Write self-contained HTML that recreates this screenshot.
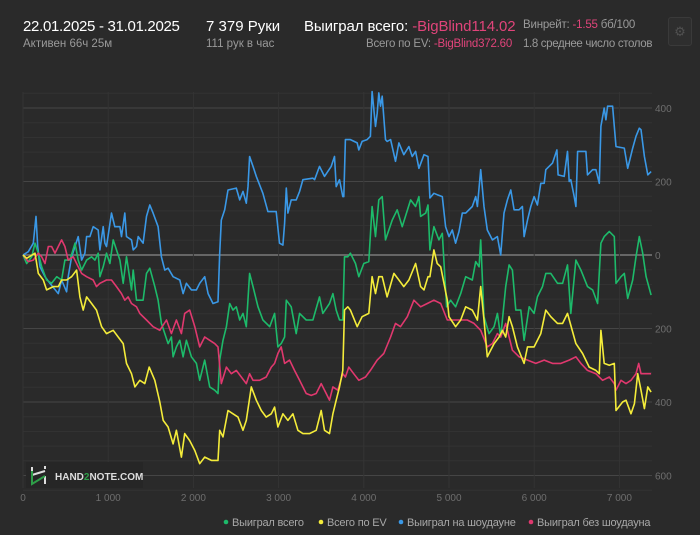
<!DOCTYPE html>
<html><head><meta charset="utf-8">
<style>
html,body{margin:0;padding:0;background:#2a2a2a;width:700px;height:535px;overflow:hidden;font-family:"Liberation Sans","DejaVu Sans",sans-serif;}
.t{position:absolute;white-space:nowrap;}
.w{color:#fff;font-size:15px;}
.g{color:#9a9a9a;font-size:11.5px;}
.p{color:#e0447a;}
</style></head><body>
<div style="position:absolute;left:0;top:0;width:700px;height:60px;">
<div class="t w" style="left:23px;top:18px;letter-spacing:-0.3px;">22.01.2025 - 31.01.2025</div>
<div class="t g" style="left:23px;top:38px;">Активен 66ч 25м</div>
<div class="t w" style="left:206px;top:18px;">7 379 Руки</div>
<div class="t g" style="left:206px;top:38px;">111 рук в час</div>
<div class="t w" style="left:304px;top:18px;letter-spacing:-0.1px;">Выиграл всего: <span class="p">-BigBlind114.02</span></div>
<div class="t g" style="left:366px;top:38px;letter-spacing:-0.2px;">Всего по EV: <span class="p">-BigBlind372.60</span></div>
<div class="t g" style="left:523px;top:19px;font-size:11.5px;letter-spacing:-0.2px;">Винрейт: <span class="p">-1.55</span> бб/100</div>
<div class="t g" style="left:523px;top:38px;font-size:11.5px;letter-spacing:-0.35px;">1.8 среднее число столов</div>
<div style="position:absolute;left:668px;top:17px;width:22px;height:27px;border:1px solid #3a3a3a;border-radius:3px;background:#2e2e2e;color:#505050;font-size:13px;text-align:center;line-height:27px;">⚙</div>
</div>
<svg id="chart" width="700" height="535" style="position:absolute;left:0;top:0;" font-family="Liberation Sans, sans-serif">
<g id="grid"></g><g id="series"></g><g id="axes"></g>
<g>
<rect x="26" y="462" width="117" height="26" fill="#262626"/>
<path d="M32 467 V473 M32 478 V481 M32 475 L45 471 M45 476 V484 M45 466 V469" stroke="#ddd" stroke-width="2" fill="none"/>
<path d="M32 471 V484 L45 476" stroke="#2e9e48" stroke-width="2" fill="none"/>
<text x="55" y="480" font-size="10" font-weight="bold" fill="#ddd">HAND<tspan fill="#2e9e48">2</tspan>NOTE.COM</text>
</g>
<g id="legend"></g>
</svg>
<script>
const hBlue=[0,62,121,152,172,199,258,316,414,453,512,531,570,648,688,727,746,785,824,883,902,941,961,980,1039,1078,1137,1156,1195,1215,1273,1293,1332,1352,1410,1449,1488,1527,1586,1625,1664,1703,1762,1840,1879,1918,1976,2035,2074,2133,2172,2230,2289,2309,2328,2367,2406,2504,2543,2582,2621,2641,2660,2699,2738,2816,2875,2972,3011,3051,3070,3090,3109,3148,3207,3246,3285,3402,3422,3480,3539,3617,3656,3676,3715,3754,3765,3784,3843,3922,3941,3980,4039,4078,4098,4137,4157,4176,4196,4216,4255,4274,4314,4372,4412,4470,4529,4568,4608,4647,4706,4753,4776,4823,4862,4921,4960,5000,5039,5078,5117,5156,5196,5274,5313,5333,5372,5411,5450,5509,5568,5607,5646,5686,5725,5764,5823,5862,5882,5921,5960,5999,6038,6078,6117,6136,6215,6266,6281,6352,6391,6411,6430,6470,6489,6509,6607,6626,6685,6724,6764,6783,6822,6842,6862,6920,6960,7058,7097,7156,7195,7234,7254,7293,7333,7372];
const vBlue=[0,9,32,105,23,-32,-59,-77,-105,-68,-100,-59,-5,50,-14,5,50,50,77,68,14,77,32,23,114,77,77,50,114,50,41,14,23,50,32,105,136,114,77,-5,-41,-36,-59,-68,-105,-77,-95,-95,-77,-59,-105,-132,-127,5,95,123,177,182,150,173,141,186,268,241,214,168,118,118,32,27,86,182,114,150,150,173,205,209,205,241,214,241,268,186,205,159,159,314,314,305,286,309,314,323,445,350,386,441,405,432,314,309,314,255,305,273,295,268,282,236,273,268,155,168,164,159,77,50,68,32,64,114,114,132,159,132,232,132,68,41,50,0,114,150,177,123,123,132,50,95,132,159,136,195,195,232,250,286,218,214,282,200,205,159,132,282,282,218,232,232,195,350,400,368,405,405,295,291,236,291,323,345,341,268,218,227];
const hGreen=[0,43,102,141,180,219,277,336,395,453,492,551,610,648,688,746,805,844,883,902,941,980,1020,1059,1098,1137,1176,1215,1273,1293,1332,1410,1449,1488,1547,1586,1625,1664,1703,1742,1762,1801,1840,1879,1918,1976,2035,2074,2133,2191,2250,2289,2309,2348,2387,2426,2465,2504,2543,2582,2621,2660,2699,2758,2816,2895,2953,2992,3031,3070,3090,3148,3207,3246,3324,3402,3480,3519,3597,3637,3676,3715,3754,3773,3812,3843,3902,3941,4000,4059,4098,4137,4176,4216,4255,4333,4392,4451,4549,4608,4647,4667,4726,4753,4776,4823,4882,4921,4972,5019,5078,5137,5196,5274,5313,5353,5372,5411,5470,5529,5568,5607,5666,5705,5744,5784,5843,5882,5941,5999,6038,6097,6136,6195,6274,6333,6391,6430,6489,6548,6626,6685,6744,6783,6822,6881,6940,6960,7019,7058,7097,7156,7195,7234,7274,7313,7372];
const vGreen=[0,-23,-5,32,5,-32,-68,-77,-59,-68,-14,-14,32,-14,-41,-14,-5,-14,5,-59,-32,5,-23,41,14,-14,-77,-5,-95,-41,-123,-123,-50,-36,-86,-123,-186,-214,-241,-223,-277,-250,-232,-277,-232,-277,-295,-341,-286,-359,-368,-377,-286,-232,-195,-132,-150,-141,-177,-159,-195,-50,-86,-141,-177,-195,-159,-250,-241,-223,-123,-141,-214,-159,-177,-177,-114,-159,-132,-105,-150,-177,-177,-5,-5,5,-23,-59,-23,-18,132,50,150,159,41,95,123,77,150,132,159,105,114,136,14,77,41,59,-141,-123,-141,-105,-59,-68,-18,-32,41,-168,-214,-195,-159,-223,-86,-27,-41,-150,-150,-232,-141,-159,-114,-86,-50,-50,-77,-77,-27,-159,-14,-41,-86,-95,-132,32,50,64,50,-77,-59,-50,-118,-68,-5,50,5,-59,-109];
const hYellow=[0,43,141,180,238,277,356,414,453,512,570,629,668,707,746,805,863,922,980,1059,1117,1176,1215,1273,1313,1371,1430,1481,1547,1606,1645,1703,1762,1801,1859,1898,1957,2016,2074,2133,2211,2289,2309,2348,2406,2465,2523,2582,2621,2680,2738,2797,2855,2914,2953,2992,3051,3109,3168,3226,3285,3363,3441,3500,3539,3597,3637,3676,3715,3754,3773,3812,3843,3922,3980,4059,4098,4137,4176,4216,4274,4353,4412,4470,4529,4608,4667,4706,4753,4776,4823,4862,4902,4980,5000,5078,5137,5196,5274,5333,5372,5411,5450,5529,5588,5627,5666,5705,5744,5803,5882,5921,5999,6078,6136,6195,6274,6333,6391,6489,6568,6646,6724,6764,6783,6822,6881,6940,6960,7038,7078,7136,7176,7215,7254,7293,7333,7372];
const vYellow=[0,-9,5,-50,-68,-95,-86,-86,-68,-68,-59,-41,-114,-150,-114,-132,-150,-195,-214,-205,-223,-241,-295,-323,-359,-341,-350,-305,-341,-400,-450,-468,-514,-477,-550,-486,-505,-532,-568,-550,-559,-559,-477,-495,-423,-432,-441,-477,-450,-359,-395,-423,-441,-432,-414,-468,-432,-450,-432,-477,-486,-486,-477,-423,-477,-486,-432,-395,-359,-314,-150,-141,-150,-195,-168,-159,-59,-105,-59,-59,-114,-50,-68,-86,-68,-23,-86,-95,-59,-59,14,-23,-32,-123,-168,-195,-177,-141,-150,-177,-86,-177,-277,-241,-223,-205,-223,-168,-195,-250,-295,-250,-250,-214,-150,-168,-186,-186,-159,-241,-268,-305,-314,-323,-205,-295,-300,-295,-423,-400,-395,-432,-405,-323,-368,-418,-359,-373];
const hPink=[0,62,121,180,219,258,297,336,375,414,453,492,531,590,648,688,746,824,863,902,980,1039,1098,1156,1195,1234,1273,1332,1371,1449,1527,1606,1684,1742,1801,1859,1898,1957,2016,2074,2133,2191,2250,2289,2328,2387,2445,2504,2562,2621,2660,2699,2777,2855,2914,2953,2992,3031,3070,3129,3187,3246,3324,3383,3441,3500,3559,3597,3637,3695,3754,3784,3824,3882,3941,4020,4078,4157,4235,4314,4372,4431,4510,4588,4667,4745,4823,4902,4980,5059,5137,5215,5294,5372,5450,5509,5568,5607,5666,5705,5744,5823,5921,6019,6117,6215,6313,6411,6489,6548,6626,6724,6803,6881,6940,6960,7019,7078,7136,7195,7227,7254,7313,7372];
const vPink=[0,-18,-14,5,-5,-23,23,23,5,23,41,23,-14,-5,-32,-50,-59,-68,-86,-77,-68,-68,-86,-105,-123,-114,-132,-141,-159,-177,-195,-205,-177,-214,-177,-214,-159,-150,-195,-250,-223,-232,-241,-250,-350,-305,-323,-314,-332,-350,-323,-341,-341,-332,-305,-295,-268,-250,-295,-286,-314,-341,-377,-382,-377,-350,-377,-395,-359,-368,-323,-332,-305,-323,-341,-332,-314,-286,-268,-223,-186,-195,-168,-123,-141,-132,-123,-132,-177,-177,-177,-177,-186,-205,-250,-241,-214,-223,-186,-223,-259,-277,-286,-295,-286,-295,-295,-286,-277,-295,-314,-323,-341,-332,-350,-368,-341,-350,-341,-323,-295,-323,-323,-323];
const xTicks=[0,1000,2000,3000,4000,5000,6000,7000];
const xTickLabels=["0","1 000","2 000","3 000","4 000","5 000","6 000","7 000"];
const yTicks=[400,200,0,-200,-400,-600];
const yTickLabels=["400","200","0","200","400","600"];
const seriesNames=["Выиграл всего","Всего по EV","Выиграл на шоудауне","Выиграл без шоудауна"];

const NS="http://www.w3.org/2000/svg";
const X=h=>23+h*0.0852;
const Y=v=>255-v*0.3675;
function mk(tag,attrs,parent){const e=document.createElementNS(NS,tag);for(const k in attrs)e.setAttribute(k,attrs[k]);parent.appendChild(e);return e;}
const grid=document.getElementById('grid'),axes=document.getElementById('axes'),ser=document.getElementById('series'),leg=document.getElementById('legend');
for(let v=-640;v<=440;v+=40){
  const major=v%200===0;
  const l=mk('line',{x1:23,x2:652,y1:Y(v),y2:Y(v),stroke:v===0?'#8a8a8a':(major?'#454545':'#333333'),'stroke-width':v===0?1.2:1},grid);
  
  
}
xTicks.forEach((t,i)=>{
  const l=mk('line',{x1:X(t),x2:X(t),y1:92,y2:488,stroke:'#343434'},grid);
  
  
  const tx=mk('text',{x:X(t),y:501,'text-anchor':'middle','font-size':10,fill:'#6e6e6e'},axes);
  tx.textContent=xTickLabels[i];
  
  
});
yTicks.forEach((t,i)=>{
  const tx=mk('text',{x:655,y:Y(t)+4,'font-size':10,fill:'#6e6e6e'},axes);
  tx.textContent=yTickLabels[i];
  
  
});
const colors=['#1dba6a','#f4ec3a','#3a98e6','#e0386e'];
const data=[[hGreen,vGreen],[hYellow,vYellow],[hBlue,vBlue],[hPink,vPink]];
const order=[2,0,3,1];
order.forEach(i=>{
  const [hs,vs]=data[i];
  let d='';
  hs.forEach((h,j)=>{d+=(j?'L':'M')+X(h).toFixed(1)+' '+Y(vs[j]).toFixed(1);});
  const p=mk('path',{d:d,fill:'none',stroke:colors[i],'stroke-width':1.6,'stroke-linejoin':'round'},ser);
  
  
});
const legX=[226,321,401,531];
seriesNames.forEach((n,i)=>{
  const c=mk('circle',{cx:legX[i],cy:522,r:2.3,fill:colors[i]},leg);
  
  
  const t=mk('text',{x:legX[i]+6,y:526,'font-size':11,fill:'#a8a8a8','letter-spacing':-0.2},leg);
  t.textContent=n;
  
  
});
</script>
</body></html>
